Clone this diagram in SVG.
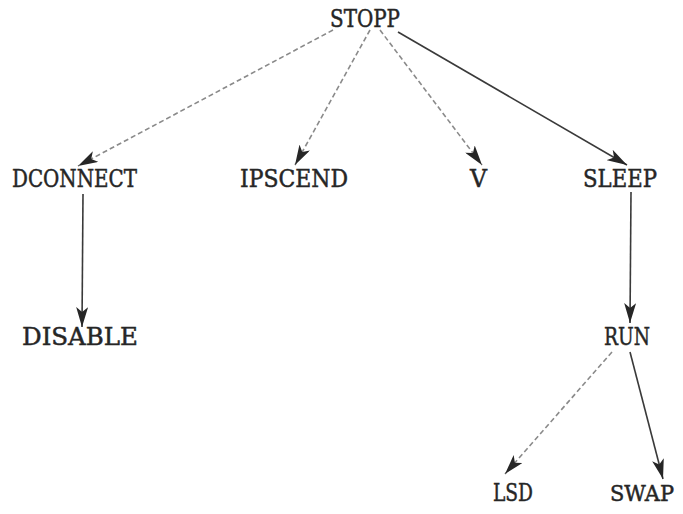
<svg xmlns="http://www.w3.org/2000/svg" width="683" height="514" viewBox="0 0 683 514">
  <style>
    .lbl { font-family: "DejaVu Serif", "Liberation Serif", serif; font-size: 25px; fill: #262626; stroke: #262626; stroke-width: 0.5; }
    .edge { fill: none; stroke-width: 1.6; }
    .solid { stroke: #3a3a3a; }
    .faint { stroke: #8a8a8a; stroke-dasharray: 5 3; }
  </style>
  <defs>
    <marker id="arrow" viewBox="0 0 20 12" refX="20" refY="6" markerWidth="20" markerHeight="12" markerUnits="userSpaceOnUse" orient="auto">
      <path d="M0,0 L20,6 L0,12 L5,6 Z" fill="#262626"/>
    </marker>
  </defs>
  <rect width="683" height="514" fill="#ffffff"/>

  <g id="connectors">
    <line class="edge faint" x1="333" y1="30" x2="78" y2="166" marker-end="url(#arrow)"/>
    <line class="edge faint" x1="370" y1="30" x2="295" y2="165" marker-end="url(#arrow)"/>
    <line class="edge faint" x1="380" y1="30" x2="482" y2="165" marker-end="url(#arrow)"/>
    <line class="edge solid" x1="398" y1="32" x2="627" y2="165" marker-end="url(#arrow)"/>
    <line class="edge solid" x1="83" y1="194" x2="82" y2="327" marker-end="url(#arrow)"/>
    <line class="edge solid" x1="631" y1="192" x2="630" y2="323" marker-end="url(#arrow)"/>
    <line class="edge faint" x1="612" y1="352" x2="505" y2="474" marker-end="url(#arrow)"/>
    <line class="edge solid" x1="630" y1="352" x2="663" y2="479" marker-end="url(#arrow)"/>
  </g>

  <g id="STOPP"><text class="lbl" x="330" y="27" textLength="70" lengthAdjust="spacingAndGlyphs">STOPP</text></g>
  <g id="DCONNECT"><text class="lbl" x="12" y="187" textLength="125" lengthAdjust="spacingAndGlyphs">DCONNECT</text></g>
  <g id="IPSCEND"><text class="lbl" x="240" y="187" textLength="108" lengthAdjust="spacingAndGlyphs">IPSCEND</text></g>
  <g id="V"><text class="lbl" x="470" y="187" textLength="17" lengthAdjust="spacingAndGlyphs">V</text></g>
  <g id="SLEEP"><text class="lbl" x="583" y="187" textLength="74" lengthAdjust="spacingAndGlyphs">SLEEP</text></g>
  <g id="DISABLE"><text class="lbl" x="22" y="345" textLength="116" lengthAdjust="spacingAndGlyphs">DISABLE</text></g>
  <g id="RUN"><text class="lbl" x="604" y="345" textLength="46" lengthAdjust="spacingAndGlyphs">RUN</text></g>
  <g id="LSD"><text class="lbl" x="493" y="501" textLength="40" lengthAdjust="spacingAndGlyphs">LSD</text></g>
  <g id="SWAP"><text class="lbl" x="610" y="501" style="font-size:22px" textLength="64" lengthAdjust="spacingAndGlyphs">SWAP</text></g>
</svg>
